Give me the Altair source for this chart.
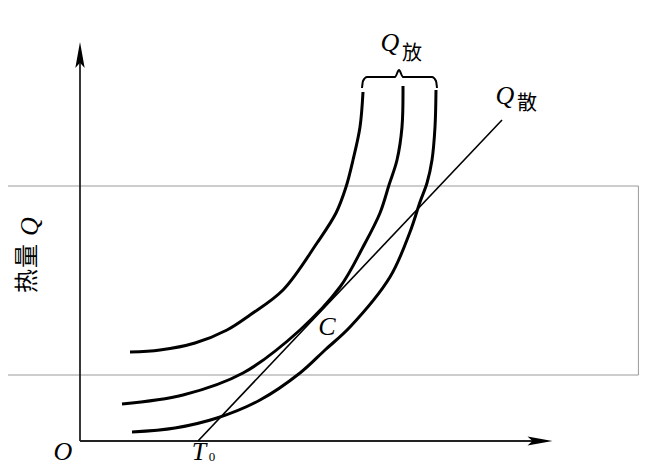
import altair as alt
import pandas as pd

# ---- data (T = temperature axis units, Q = heat axis units) ----
curve_a_T = [1.25, 2.0, 2.875, 3.675, 4.25, 5.075, 5.925, 6.4, 6.65, 6.825, 7.0, 7.075]
curve_a_Q = [2.225, 2.275, 2.45, 2.775, 3.15, 3.775, 4.95, 5.7, 6.35, 7.025, 7.85, 8.725]

curve_b_T = [1.05, 2.575, 4.075, 5.5, 6.5, 7.075, 7.5, 7.725, 7.925, 8.05, 8.075]
curve_b_Q = [0.925, 1.15, 1.7, 2.775, 3.85, 4.85, 5.7, 6.4, 7.025, 7.85, 8.875]

curve_c_T = [1.3, 2.375, 3.425, 4.5, 5.5, 6.125, 6.75, 7.75, 8.25, 8.5, 8.675, 8.8, 8.875, 8.9]
curve_c_Q = [0.225, 0.325, 0.575, 1.025, 1.7, 2.275, 2.85, 4.1, 5.225, 5.975, 6.45, 7.025, 7.85, 8.775]

diss_T = [2.95, 10.55]
diss_Q = [0.0, 8.025]

brace_T = [7.05, 7.075, 7.175, 7.875, 7.975, 8.075, 8.8, 8.9, 8.925]
brace_Q = [8.825, 9.0, 9.1, 9.1, 9.275, 9.1, 9.1, 9.0, 8.825]

axis_end_T = 11.5
axis_end_Q = 9.65

grey_Q = [6.375, 1.65]
grey_T = [-1.8, 13.96]

letters = ["Q", "Q", "C", "O", "T"]
letters_T = [7.75, 10.625, 6.175, -0.425, 2.975]
letters_Q = [9.95, 8.625, 2.85, -0.2625, -0.2625]

cjk = ["放", "散"]
cjk_T = [8.3, 11.175]
cjk_Q = [9.675, 8.425]

sub = ["0"]
sub_T = [3.3]
sub_Q = [-0.41]

# rotated y-axis title "热量Q", one glyph per entry
ylabel_cjk = ["热", "量"]
ylabel_cjk_T = [-1.29, -1.29]
ylabel_cjk_Q = [4.0, 4.625]
ylabel_q = "Q"
ylabel_q_T = -1.25
ylabel_q_Q = 5.36

# ---- scales (40 px per unit, origin at page pixel 80, 441) ----
T_MIN, T_MAX = -1.8, 13.975
Q_MIN, Q_MAX = -0.6, 10.825
xs = alt.Scale(domain=[T_MIN, T_MAX], nice=False, zero=False)
ys = alt.Scale(domain=[Q_MIN, Q_MAX], nice=False, zero=False)


def X(f="T"):
    return alt.X(f, type="quantitative", scale=xs, axis=None)


def Y(f="Q"):
    return alt.Y(f, type="quantitative", scale=ys, axis=None)


rows = []
for name, ts, qs in [("a", curve_a_T, curve_a_Q), ("b", curve_b_T, curve_b_Q), ("c", curve_c_T, curve_c_Q)]:
    for i, (t, q) in enumerate(zip(ts, qs)):
        rows.append({"name": name, "i": i, "T": t, "Q": q})
curves_df = pd.DataFrame(rows)

curves = alt.Chart(curves_df).mark_line(
    color="black", strokeWidth=3, interpolate="catmull-rom", strokeCap="butt"
).encode(x=X(), y=Y(), detail="name:N", order="i:Q")

diss_df = pd.DataFrame({"T": diss_T, "Q": diss_Q, "i": range(len(diss_T))})
diss = alt.Chart(diss_df).mark_line(color="black", strokeWidth=1.6).encode(
    x=X(), y=Y(), order="i:Q"
)

brace_df = pd.DataFrame({"T": brace_T, "Q": brace_Q, "i": range(len(brace_T))})
brace = alt.Chart(brace_df).mark_line(color="black", strokeWidth=2, interpolate="monotone").encode(
    x=X(), y=Y(), order="i:Q"
)

axes_df = pd.DataFrame({
    "T": [0.0, 0.0], "Q": [0.0, 0.0],
    "T2": [axis_end_T, 0.0], "Q2": [0.0, axis_end_Q],
})
axes = alt.Chart(axes_df).mark_rule(color="#222", strokeWidth=1.8).encode(
    x=X(), y=Y(), x2="T2:Q", y2="Q2:Q"
)

arrow_up = alt.Chart(pd.DataFrame({"T": [0.0], "Q": [axis_end_Q]})).mark_point(
    shape="M0,-1L0.36,1L0,0.6L-0.36,1Z", filled=True, size=676, color="black", opacity=1
).encode(x=X(), y=Y())
arrow_right = alt.Chart(pd.DataFrame({"T": [axis_end_T], "Q": [0.0]})).mark_point(
    shape="M1,0L-1,0.36L-0.6,0L-1,-0.36Z", filled=True, size=625, color="black", opacity=1
).encode(x=X(), y=Y())

grey_df = pd.DataFrame({
    "T": [grey_T[0], grey_T[0], grey_T[1]],
    "Q": [grey_Q[0], grey_Q[1], grey_Q[0]],
    "T2": [grey_T[1], grey_T[1], grey_T[1]],
    "Q2": [grey_Q[0], grey_Q[1], grey_Q[1]],
})
grey = alt.Chart(grey_df).mark_rule(color="#9a9a9a", strokeWidth=1).encode(
    x=X(), y=Y(), x2="T2:Q", y2="Q2:Q"
)

letters_df = pd.DataFrame({"label": letters, "T": letters_T, "Q": letters_Q})
letters_layer = alt.Chart(letters_df).mark_text(
    font="Liberation Serif", fontStyle="italic", fontSize=26, color="black",
    align="center", baseline="middle"
).encode(x=X(), y=Y(), text="label:N")

cjk_df = pd.DataFrame({"label": cjk, "T": cjk_T, "Q": cjk_Q})
cjk_layer = alt.Chart(cjk_df).mark_text(
    font="Noto Sans CJK SC", fontSize=20, color="black", align="center", baseline="middle"
).encode(x=X(), y=Y(), text="label:N")

sub_df = pd.DataFrame({"label": sub, "T": sub_T, "Q": sub_Q})
sub_layer = alt.Chart(sub_df).mark_text(
    font="Liberation Serif", fontSize=13, color="black", align="center", baseline="middle"
).encode(x=X(), y=Y(), text="label:N")

yl1 = alt.Chart(pd.DataFrame({"label": ylabel_cjk, "T": ylabel_cjk_T, "Q": ylabel_cjk_Q})).mark_text(
    font="Noto Sans CJK SC", fontSize=24, color="black", angle=270, align="center", baseline="middle"
).encode(x=X(), y=Y(), text="label:N")
yl2 = alt.Chart(pd.DataFrame({"label": [ylabel_q], "T": [ylabel_q_T], "Q": [ylabel_q_Q]})).mark_text(
    font="Liberation Serif", fontStyle="italic", fontSize=26, color="black", angle=270,
    align="center", baseline="middle"
).encode(x=X(), y=Y(), text="label:N")

chart = alt.layer(
    grey, axes, arrow_up, arrow_right, diss, curves, brace,
    letters_layer, cjk_layer, sub_layer, yl1, yl2
).properties(
    width=631, height=457, padding=0, autosize=alt.AutoSizeParams(type="none"),
    background="white"
).configure_view(stroke=None)

chart.save("out.html", embed_options={"renderer": "svg", "actions": False})
